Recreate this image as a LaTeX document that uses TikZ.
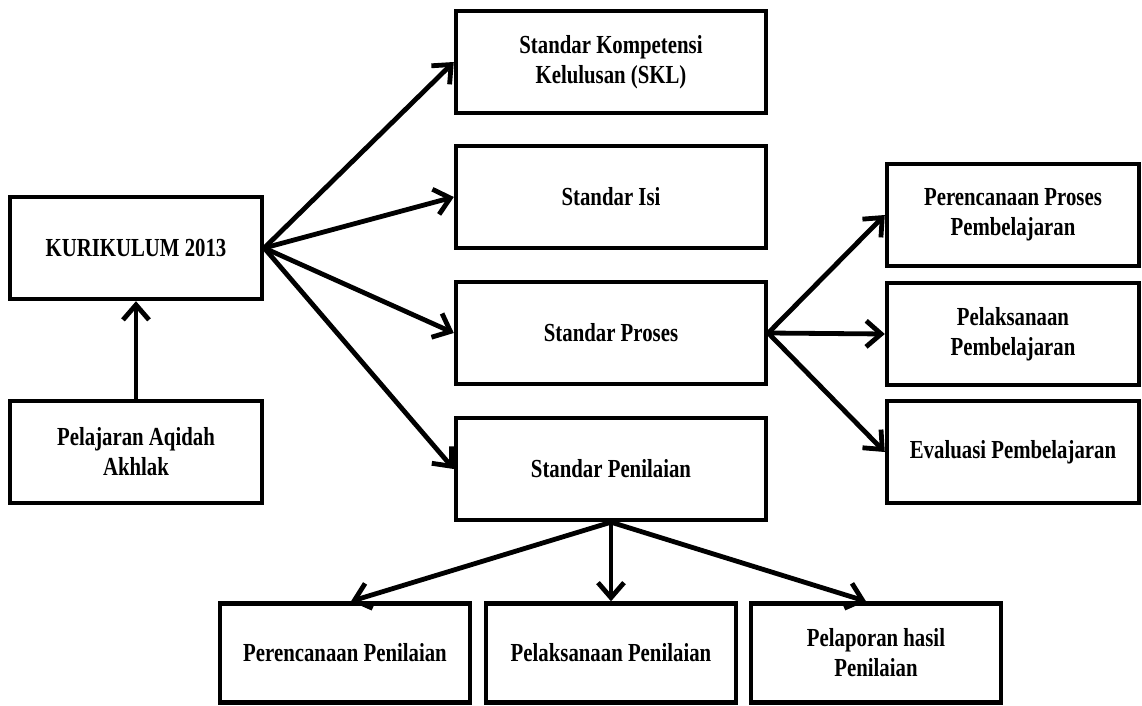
\documentclass[tikz,border=0pt]{standalone}
\usepackage{fontspec}
\setmainfont{Liberation Serif}[FakeStretch=0.8]
\usepackage{tikz}
\usetikzlibrary{arrows.meta}
\usepackage{xcolor}
\definecolor{ColWhite}{RGB}{255,255,255}
\definecolor{ColBlack}{RGB}{0,0,0}
\tikzstyle{BoxStd}=[rectangle,draw=ColBlack,fill=ColWhite,line width=2.2pt,align=center,
inner sep=2pt,font=\bfseries\fontsize{13}{15}\selectfont]
\tikzstyle{BoxSide}=[BoxStd,minimum width=126pt,minimum height=51pt]
\tikzstyle{BoxMid}=[BoxStd,minimum width=155pt,minimum height=51pt]
\tikzstyle{BoxLow}=[BoxStd,minimum width=125pt,minimum height=49.5pt]
\tikzstyle{EdgeArrow}=[ColBlack,line width=2.4pt,line cap=round,
-{Straight Barb[length=7.5pt,width=13pt,line width=2.4pt]}]

\begin{document}
\begin{tikzpicture}[x=0.5pt,y=-0.5pt]
        \useasboundingbox(0,0)rectangle(1142,706);
        % left column
        \node[BoxSide](kur)at(136,248){KURIKULUM 2013};
        \node[BoxSide](aqd)at(136,452){Pelajaran Aqidah\\Akhlak};
        % standards
        \node[BoxMid](skl)at(611,62){Standar Kompetensi\\Kelulusan (SKL)};
        \node[BoxMid](isi)at(611,197){Standar Isi};
        \node[BoxMid](prs)at(611,333){Standar Proses};
        \node[BoxMid](pnl)at(611,469){Standar Penilaian};
        % proses
        \node[BoxSide](rpp)at(1013,215){Perencanaan Proses\\Pembelajaran};
        \node[BoxSide](lpp)at(1013,334){Pelaksanaan\\Pembelajaran};
        \node[BoxSide](evp)at(1013,452){Evaluasi Pembelajaran};
        % penilaian
        \node[BoxLow](rpn)at(345,653){Perencanaan Penilaian};
        \node[BoxLow](lpn)at(611,653){Pelaksanaan Penilaian};
        \node[BoxLow](hpn)at(876,653){Pelaporan hasil\\Penilaian};
        \draw[EdgeArrow](aqd)--(kur);
        \foreach \t in {skl,isi,prs,pnl}
            \draw[EdgeArrow](kur.east)--(\t.west);
        \foreach \t in {rpp,lpp,evp}
            \draw[EdgeArrow](prs.east)--(\t.west);
        \draw[EdgeArrow](pnl.south)--([xshift=3pt]rpn.north);
        \draw[EdgeArrow](pnl.south)--(lpn.north);
        \draw[EdgeArrow](pnl.south)--([xshift=-5pt]hpn.north);
    \end{tikzpicture}
\end{document}
